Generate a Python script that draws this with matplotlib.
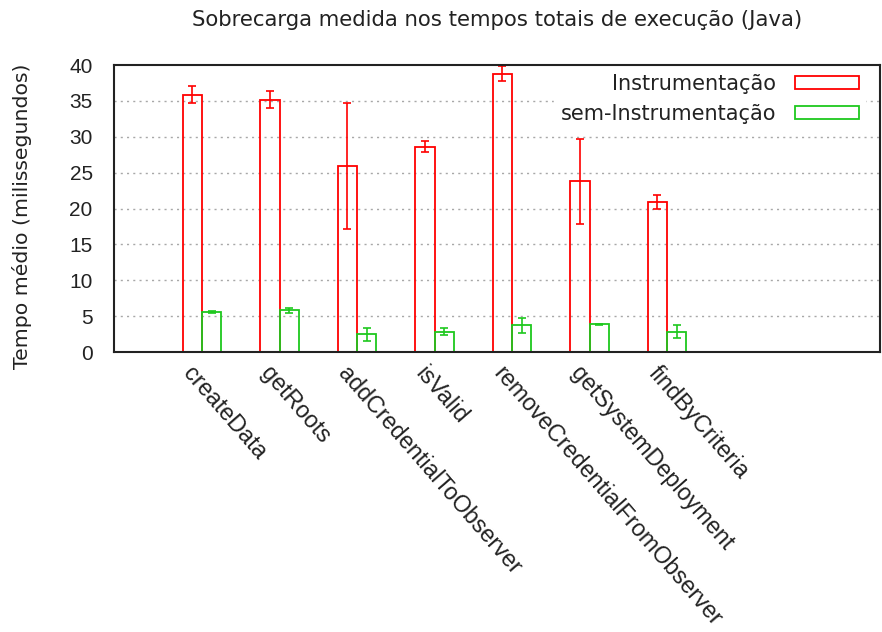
import numpy as np
import matplotlib
matplotlib.use('Agg')
import matplotlib.pyplot as plt

# values (ms)
methods = ['createData', 'getRoots', 'addCredentialToObserver', 'isValid',
           'removeCredentialFromObserver', 'getSystemDeployment', 'findByCriteria']
instr_mean = [35.9, 35.2, 25.9, 28.6, 38.8, 23.8, 20.9]
instr_err = [1.2, 1.25, 8.75, 0.78, 1.05, 5.95, 1.0]
plain_mean = [5.55, 5.8, 2.45, 2.85, 3.7, 3.85, 2.85]
plain_err = [0.15, 0.4, 0.85, 0.5, 1.0, 0.05, 0.93]

red = '#ff0000'
green = '#1ec81e'
width = 0.25

fig = plt.figure(figsize=(8.82, 6.32), dpi=100)
ax = fig.add_axes([0.1287, 0.443, 0.869, 0.454])

x = np.arange(len(methods))

### bars, outline only
ax.bar(x - width / 2, instr_mean, width, facecolor='none', edgecolor=red,
       linewidth=1.3, label='Instrumentação')
ax.bar(x + width / 2, plain_mean, width, facecolor='none', edgecolor=green,
       linewidth=1.3, label='sem-Instrumentação')

### error bars
ax.errorbar(x - width / 2, instr_mean, yerr=instr_err, fmt='none', ecolor=red,
            elinewidth=1.2, capsize=2.8, capthick=1.2)
ax.errorbar(x + width / 2, plain_mean, yerr=plain_err, fmt='none', ecolor=green,
            elinewidth=1.2, capsize=2.8, capthick=1.2)

ax.set_xlim(-1.142, 8.748)
ax.set_ylim(0, 40)
ax.set_yticks(np.arange(0, 41, 5))
ax.tick_params(axis='y', length=0, pad=15, labelsize=15)
for lbl in ax.get_yticklabels():
    lbl.set_fontfamily('Liberation Sans')
    lbl.set_color('#222222')

ax.set_xticks(x - 0.08)
ax.set_xticklabels(methods, rotation=-49, ha='left', va='top',
                   rotation_mode='anchor', fontsize=16.8,
                   fontfamily='Liberation Sans', color='#222222')
ax.tick_params(axis='x', length=0, pad=7)

### dotted grid
ax.set_axisbelow(True)
for yv in range(5, 40, 5):
    ax.axhline(yv, color='#a8a8a8', linewidth=1.0, linestyle=(0, (1.5, 3)),
               zorder=0)

for s in ax.spines.values():
    s.set_linewidth(1.5)
    s.set_color('#222222')

ax.set_title('Sobrecarga medida nos tempos totais de execução (Java)',
             fontsize=15.3, fontfamily='DejaVu Sans', color='#222222', pad=28)
ax.set_ylabel('Tempo médio (milissegundos)', fontsize=14.7,
              fontfamily='DejaVu Sans', color='#222222', va='center')
ax.yaxis.set_label_coords(-0.1195, 0.474)

leg = ax.legend(loc='upper right', bbox_to_anchor=(0.981, 0.99),
                markerfirst=False, frameon=True, fancybox=False,
                edgecolor='white', facecolor='white', framealpha=1.0,
                prop={'family': 'DejaVu Sans', 'size': 15},
                handlelength=3.1, handleheight=0.6, handletextpad=0.9,
                labelspacing=0.45, borderpad=0.3, borderaxespad=0.0)
for t in leg.get_texts():
    t.set_color('#222222')

fig.savefig('out.png', dpi=100)
